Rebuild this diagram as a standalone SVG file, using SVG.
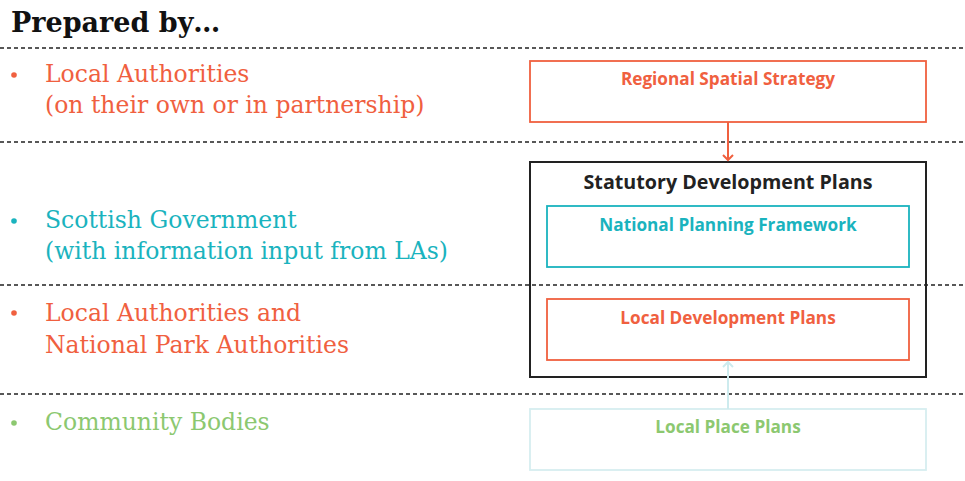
<svg xmlns="http://www.w3.org/2000/svg" width="965" height="481" viewBox="0 0 965 481">
<style>
.sep{stroke:#222;stroke-width:1.4;stroke-dasharray:4 3;fill:none}
.lbl{font-family:"DejaVu Serif","Liberation Serif",serif;font-size:23.5px}
.bx{fill:#fff;stroke-width:1.8}
.bt{font-family:"Open Sans","Liberation Sans",sans-serif;font-weight:bold;font-size:17.2px;text-anchor:middle}
.ttl{font-size:19.7px;fill:#222}
.or{fill:#F0603F}.te{fill:#1AB3BE}.gr{fill:#8CC870}
</style>
<defs>
<marker id="aO" markerWidth="12" markerHeight="12" refX="6" refY="6" orient="auto" markerUnits="userSpaceOnUse"><path d="M1,1 L6,6 L1,11" fill="none" stroke="#F0603F" stroke-width="2"/></marker>
<marker id="aT" markerWidth="12" markerHeight="12" refX="6" refY="6" orient="auto" markerUnits="userSpaceOnUse"><path d="M1,1 L6,6 L1,11" fill="none" stroke="#CDEBEE" stroke-width="2"/></marker>
</defs>
<rect width="965" height="481" fill="#fff"/>
<text x="11" y="32" font-family="DejaVu Serif,'Liberation Serif',serif" font-weight="bold" font-size="27" fill="#111">Prepared by…</text>
<g id="separators">
<line class="sep" x1="0" y1="48" x2="965" y2="48"/>
<line class="sep" x1="0" y1="142" x2="965" y2="142"/>
<line class="sep" x1="0" y1="285" x2="965" y2="285"/>
<line class="sep" x1="0" y1="394" x2="965" y2="394"/>
</g>
<g id="lbl-la" class="lbl or">
<circle cx="14" cy="75" r="2.8"/>
<text x="45" y="82">Local Authorities</text>
<text x="45" y="113">(on their own or in partnership)</text>
</g>
<g id="lbl-sg" class="lbl te">
<circle cx="14" cy="221" r="2.8"/>
<text x="45" y="228">Scottish Government</text>
<text x="45" y="259">(with information input from LAs)</text>
</g>
<g id="lbl-lanp" class="lbl or">
<circle cx="14" cy="313" r="2.8"/>
<text x="45" y="321">Local Authorities and</text>
<text x="45" y="353">National Park Authorities</text>
</g>
<g id="lbl-cb" class="lbl gr">
<circle cx="14" cy="423" r="2.8"/>
<text x="45" y="430">Community Bodies</text>
</g>
<g id="rss">
<rect class="bx" x="530" y="61" width="396" height="61" stroke="#F0603F"/>
<text class="bt or" x="728" y="85">Regional Spatial Strategy</text>
</g>
<g id="sdp">
<rect x="530" y="162" width="396" height="215" fill="none" stroke="#222" stroke-width="2"/>
<text class="bt ttl" x="728" y="189">Statutory Development Plans</text>
</g>
<g id="npf">
<rect class="bx" x="547" y="206" width="362" height="61" stroke="#1AB3BE"/>
<text class="bt te" x="728" y="231">National Planning Framework</text>
</g>
<g id="ldp">
<rect class="bx" x="547" y="299" width="362" height="61" stroke="#F0603F"/>
<text class="bt or" x="728" y="324">Local Development Plans</text>
</g>
<g id="lpp">
<rect class="bx" x="530" y="409" width="396" height="61" stroke="#D6EEF0"/>
<text class="bt gr" x="728" y="433">Local Place Plans</text>
</g>
<g id="connectors">
<line x1="728" y1="122" x2="728" y2="160" stroke="#F0603F" stroke-width="2" marker-end="url(#aO)"/>
<line x1="728" y1="409" x2="728" y2="362" stroke="#CDEBEE" stroke-width="2" marker-end="url(#aT)"/>
</g>
</svg>
